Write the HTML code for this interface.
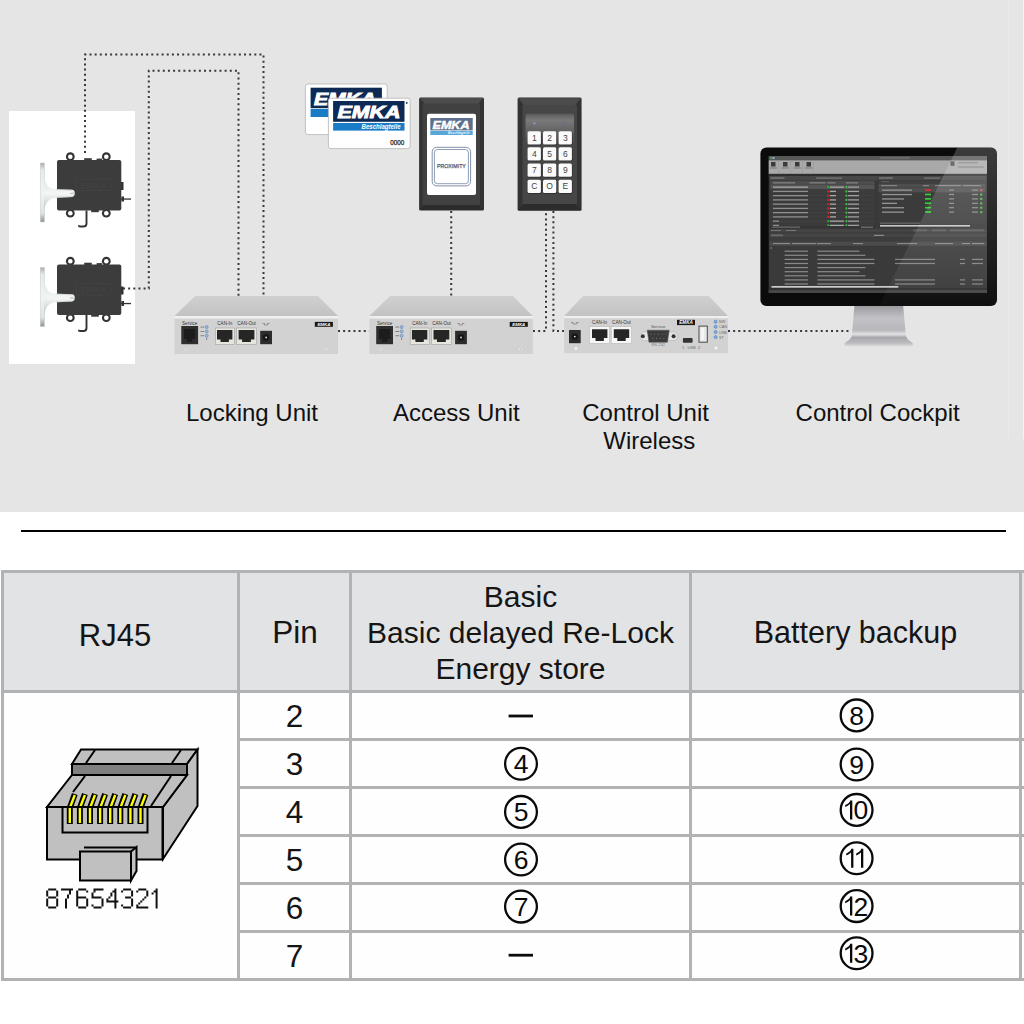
<!DOCTYPE html>
<html><head><meta charset="utf-8">
<style>
html,body{margin:0;padding:0;width:1024px;height:1024px;overflow:hidden;background:#fff;}
body{position:relative;font-family:"Liberation Sans",sans-serif;color:#1a1a1a;}
.a{position:absolute;}
#top{position:absolute;left:0;top:0;width:1024px;height:512px;background:#e5e5e5;overflow:hidden;}
.lbl{position:absolute;font-size:24px;line-height:28px;white-space:nowrap;color:#111;text-align:center;}
.hl{position:absolute;background:#b1b2b4;height:3px;}
.vl{position:absolute;background:#b1b2b4;width:3px;}
.t{position:absolute;font-size:30.5px;line-height:36px;text-align:center;white-space:nowrap;color:#151515;}
.c{position:absolute;width:31px;height:31px;border:2px solid #111;border-radius:50%;box-sizing:content-box;}
.c span{position:absolute;left:0;right:0;top:5px;text-align:center;font-size:25px;line-height:25px;color:#111;}
.dash{position:absolute;width:25px;height:3px;background:#111;}
</style></head><body>
<div id="top">
<svg class="a" style="left:0;top:0" width="1024" height="512" viewBox="0 0 1024 512">
<defs>
<linearGradient id="latch" x1="0" y1="0" x2="0" y2="1">
<stop offset="0" stop-color="#a8acac"/><stop offset="0.12" stop-color="#e6eaea"/><stop offset="0.5" stop-color="#f2f4f4"/><stop offset="0.85" stop-color="#dfe3e3"/><stop offset="1" stop-color="#8e9292"/>
</linearGradient>
<linearGradient id="arm" x1="0" y1="0" x2="0" y2="1">
<stop offset="0" stop-color="#dfe3e3"/><stop offset="0.5" stop-color="#f4f6f6"/><stop offset="1" stop-color="#c0c4c4"/>
</linearGradient>
<g id="lock">
<rect x="40.2" y="163" width="4.3" height="59" fill="url(#latch)" stroke="#c8cccc" stroke-width="0.5"/>
<circle cx="70.3" cy="156.7" r="4.4" fill="#333"/><circle cx="70.3" cy="156.7" r="2.3" fill="#fff"/>
<circle cx="106.3" cy="156.7" r="4.4" fill="#333"/><circle cx="106.3" cy="156.7" r="2.3" fill="#fff"/>
<circle cx="70.3" cy="213.2" r="4.4" fill="#333"/><circle cx="70.3" cy="213.2" r="2.3" fill="#fff"/>
<circle cx="106.3" cy="213.2" r="4.4" fill="#333"/><circle cx="106.3" cy="213.2" r="2.3" fill="#fff"/>
<rect x="84.2" y="158.2" width="7.6" height="3" fill="#3a3a3a"/>
<rect x="96.6" y="158.6" width="5.4" height="3" fill="#3a3a3a"/>
<rect x="91.2" y="209" width="7.6" height="3.2" fill="#3a3a3a"/>
<rect x="57" y="160" width="64.3" height="50.5" rx="2" fill="#3c3c3c"/>
<rect x="76.2" y="179.2" width="34.9" height="11.3" rx="1" fill="none" stroke="#444" stroke-width="0.8"/>
<text x="93.6" y="188.5" text-anchor="middle" style="font-family:'Liberation Sans';font-size:9px;font-weight:bold;font-style:italic" fill="#414141">EMKA</text>
<path d="M44 176 C45.5 185 49 188.6 56 189.2 L72 189.8 Q74.8 190.2 74.8 193.3 Q74.8 196.6 72 197 L56 197.8 C49 198.4 45.5 202 44 211 Z" fill="url(#arm)"/><path d="M56 189.6L72 190.2M56 197.4L72 196.6" stroke="#c4caca" stroke-width="0.6"/><path d="M74.8 192.5 L70 193.4 L74.8 194.3" fill="none" stroke="#aab" stroke-width="0.5"/>
<rect x="121" y="182" width="2.5" height="8" fill="#333"/>
<rect x="121" y="198.4" width="10" height="1.3" fill="#333"/>
<rect x="121.5" y="196.5" width="2.5" height="5" fill="#333"/>
<path d="M86.5 210.5 V223.5 Q86.5 226.5 83.5 226.5 H80 Q78.8 226.5 78.8 225.2" fill="none" stroke="#333" stroke-width="1.9"/>
</g>
<linearGradient id="tface" x1="0" y1="0" x2="0" y2="1"><stop offset="0" stop-color="#d0d0d0"/><stop offset="1" stop-color="#c2c2c2"/></linearGradient><g id="unit">
<polygon points="195.2,296 318,296 338,316 174.5,316" fill="url(#tface)"/>
<rect x="174.5" y="316" width="163.5" height="2.6" fill="#efefef"/>
<rect x="174.5" y="318.6" width="163.5" height="35.4" fill="#d2d2d2"/>
<rect x="181.3" y="326" width="16.8" height="18.2" fill="#2e2e2e"/>
<path d="M184 329h11.3v10h-3v3h-5.3v-3h-3z" fill="#1c1c1c"/>
<text x="189.7" y="324.8" text-anchor="middle" style="font-family:'Liberation Sans';font-size:4.6px" fill="#333">Service</text>
<g fill="#9bbbe0" stroke="#5f80b0" stroke-width="0.6"><circle cx="206.7" cy="327" r="1.5"/><circle cx="206.7" cy="331.4" r="1.5"/><circle cx="206.7" cy="335.7" r="1.5"/></g>
<rect x="206.2" y="338.5" width="1" height="1" fill="#333"/>
<g fill="#777"><rect x="200.5" y="326.6" width="3.6" height="0.9"/><rect x="200.5" y="331" width="3.6" height="0.9"/><rect x="200.5" y="335.3" width="3.6" height="0.9"/></g>
<rect x="215.3" y="328" width="19" height="16.4" fill="#e6e6de" stroke="#a0a0a0" stroke-width="0.6"/>
<path d="M217 330h15.4v9.5h-3.5v2.6h-8.4v-2.6h-3.5z" fill="#262626"/>
<rect x="236.6" y="328" width="20" height="16.4" fill="#e6e6de" stroke="#a0a0a0" stroke-width="0.6"/>
<path d="M238.6 330h15.8v9.5h-3.5v2.6h-8.8v-2.6h-3.5z" fill="#262626"/>
<text x="224.8" y="325.3" text-anchor="middle" style="font-family:'Liberation Sans';font-size:4.6px" fill="#333">CAN-In</text>
<text x="246.6" y="325.3" text-anchor="middle" style="font-family:'Liberation Sans';font-size:4.6px" fill="#333">CAN-Out</text>
<rect x="260.2" y="330.8" width="11.8" height="13.4" fill="#2c2c2c"/>
<circle cx="266.1" cy="337.5" r="3.2" fill="#151515"/><circle cx="266.1" cy="337.5" r="0.9" fill="#ddd"/>
<path d="M262.5 323.5h2v1.5h3v-1.5h2" fill="none" stroke="#666" stroke-width="0.6"/>
<rect x="314.8" y="321.9" width="18.1" height="4.9" fill="#181818"/>
<text x="323.9" y="325.9" text-anchor="middle" style="font-family:'Liberation Sans';font-size:4.4px;font-weight:bold;font-style:italic" fill="#fff">EMKA</text>
<circle cx="186.4" cy="349.3" r="2.4" fill="#ececec" stroke="#bdbdbd" stroke-width="0.5"/>
<circle cx="325.8" cy="349.3" r="2.4" fill="#ececec" stroke="#bdbdbd" stroke-width="0.5"/>
<path d="M185 349.3h2.8M186.4 347.9v2.8M324.4 349.3h2.8M325.8 347.9v2.8" stroke="#999" stroke-width="0.4"/>
</g>
</defs>
<rect x="1008" y="0" width="1" height="439" fill="#e9e9e9"/><rect x="1023" y="0" width="1" height="439" fill="#f3f3f3"/>
<rect x="9" y="111" width="126" height="253" fill="#fff"/>
<use href="#lock"/>
<use href="#lock" transform="translate(0,104.5)"/>
<use href="#unit"/>
<use href="#unit" transform="translate(194.9,0)"/>
<g fill="none" stroke="#383838" stroke-width="2" stroke-dasharray="2 3.15">
<path d="M85 153V54.5H263.5V296"/>
<path d="M123 288.5H148.8V70.8H238.5V296"/>
<path d="M338 331H369"/>
<path d="M451.2 211V296"/>
<path d="M533 331H546V211"/>
<path d="M553.4 211V331H564"/>
<path d="M728 331H851"/>
</g>
<!-- cards -->
<g id="card1">
<rect x="305.4" y="84" width="81.8" height="50.6" rx="2.5" fill="#fff" stroke="#b5b5b5" stroke-width="0.8"/>
<rect x="310.6" y="87.7" width="71.3" height="20.5" fill="#0d2a55"/>
<rect x="310.6" y="109" width="71.3" height="8" fill="#1a7bc6"/>
<text x="345" y="104.5" text-anchor="middle" style="font-family:'Liberation Sans';font-size:17px;font-weight:bold;font-style:italic" textLength="62" lengthAdjust="spacingAndGlyphs" fill="#fff" stroke="#fff" stroke-width="0.9">EMKA</text>
</g>
<g>
<rect x="328.4" y="98.2" width="81.8" height="50.4" rx="2.5" fill="#fff" stroke="#b5b5b5" stroke-width="0.8"/>
<rect x="333.1" y="101" width="71.4" height="20.8" fill="#0d2a55"/>
<rect x="333.1" y="123" width="71.4" height="7.6" fill="#1a7bc6"/>
<text x="369" y="118.2" text-anchor="middle" style="font-family:'Liberation Sans';font-size:17px;font-weight:bold;font-style:italic" textLength="63" lengthAdjust="spacingAndGlyphs" fill="#fff" stroke="#fff" stroke-width="0.9">EMKA</text>
<text x="400.6" y="129.2" text-anchor="end" style="font-family:'Liberation Sans';font-size:6.6px;font-weight:bold;font-style:italic" textLength="39" lengthAdjust="spacingAndGlyphs" fill="#fff">Beschlagteile</text>
<circle cx="406.7" cy="102.9" r="0.9" fill="#0d2a55"/>
<text x="404.2" y="145.2" text-anchor="end" style="font-family:'Liberation Sans';font-size:6.6px" fill="#222" stroke="#222" stroke-width="0.25" textLength="14" lengthAdjust="spacingAndGlyphs">0000</text>
</g>
<!-- reader -->
<g>
<rect x="419.1" y="97.4" width="64.9" height="113.2" rx="1.5" fill="#333"/>
<polygon points="419.6,98 483.5,98 478,104 425,104" fill="#4c4c4c"/>
<polygon points="419.6,210 483.5,210 478,204.5 425,204.5" fill="#2c2c2c"/>
<rect x="422.5" y="103.5" width="57.5" height="101.5" fill="#414141"/>
<rect x="427" y="113.8" width="49" height="81.1" rx="2" fill="#fff"/>
<rect x="430.3" y="118" width="42.4" height="12.4" fill="#5d6f8b"/>
<rect x="430.3" y="131" width="42.4" height="4" fill="#56a6da"/>
<text x="451" y="128.6" text-anchor="middle" style="font-family:'Liberation Sans';font-size:10px;font-weight:bold;font-style:italic" textLength="37" lengthAdjust="spacingAndGlyphs" fill="#fff" stroke="#fff" stroke-width="0.4">EMKA</text>
<text x="470" y="134.4" text-anchor="end" style="font-family:'Liberation Sans';font-size:3.6px;font-weight:bold;font-style:italic" textLength="22" lengthAdjust="spacingAndGlyphs" fill="#eaf4fb">Beschlagteile</text>
<rect x="432.2" y="147.3" width="38.4" height="38.6" rx="4.5" fill="none" stroke="#7384a0" stroke-width="0.9"/>
<rect x="434.4" y="149.5" width="34" height="34.2" rx="3" fill="none" stroke="#7384a0" stroke-width="0.8"/>
<text x="451.4" y="168.2" text-anchor="middle" style="font-family:'Liberation Sans';font-size:5.6px" textLength="29" lengthAdjust="spacingAndGlyphs" fill="#4c5c7a" stroke="#4c5c7a" stroke-width="0.25">PROXIMITY</text>
</g>
<!-- keypad -->
<g>
<rect x="517.6" y="97.6" width="64" height="113.2" rx="1.5" fill="#333"/>
<polygon points="518.2,98.2 581,98.2 575,105 524,105" fill="#4c4c4c"/>
<polygon points="518.2,210.2 581,210.2 575,204 524,204" fill="#2c2c2c"/>
<rect x="522.5" y="105" width="54.5" height="99" fill="#464646"/>
<defs><linearGradient id="kpg" x1="0" y1="0" x2="0" y2="1"><stop offset="0" stop-color="#5a5a5a"/><stop offset="0.08" stop-color="#7a7a7a"/><stop offset="0.22" stop-color="#626262"/><stop offset="0.35" stop-color="#4a4a4a"/><stop offset="1" stop-color="#444"/></linearGradient></defs>
<rect x="525.5" y="113.7" width="48.5" height="80.7" rx="2" fill="url(#kpg)"/>
<circle cx="534.4" cy="123.3" r="1.4" fill="#8a8cb8"/><circle cx="564.5" cy="123.3" r="1.4" fill="#6a6c90"/>
<rect x="528.2" y="132.0" width="13.3" height="13.3" rx="1.5" fill="#2a2a2a"/>
<rect x="527.6" y="131.2" width="13.3" height="13.3" rx="1.5" fill="#fafafa"/>
<text x="534.25" y="140.80" text-anchor="middle" style="font-family:'Liberation Sans';font-size:8.5px" fill="#444">1</text>
<rect x="543.6" y="132.0" width="13.3" height="13.3" rx="1.5" fill="#2a2a2a"/>
<rect x="543" y="131.2" width="13.3" height="13.3" rx="1.5" fill="#fafafa"/>
<text x="549.65" y="140.80" text-anchor="middle" style="font-family:'Liberation Sans';font-size:8.5px" fill="#444">2</text>
<rect x="559.2" y="132.0" width="13.3" height="13.3" rx="1.5" fill="#2a2a2a"/>
<rect x="558.6" y="131.2" width="13.3" height="13.3" rx="1.5" fill="#fafafa"/>
<text x="565.25" y="140.80" text-anchor="middle" style="font-family:'Liberation Sans';font-size:8.5px" fill="#444">3</text>
<rect x="528.2" y="148.0" width="13.3" height="13.3" rx="1.5" fill="#2a2a2a"/>
<rect x="527.6" y="147.2" width="13.3" height="13.3" rx="1.5" fill="#fafafa"/>
<text x="534.25" y="156.80" text-anchor="middle" style="font-family:'Liberation Sans';font-size:8.5px" fill="#444">4</text>
<rect x="543.6" y="148.0" width="13.3" height="13.3" rx="1.5" fill="#2a2a2a"/>
<rect x="543" y="147.2" width="13.3" height="13.3" rx="1.5" fill="#fafafa"/>
<text x="549.65" y="156.80" text-anchor="middle" style="font-family:'Liberation Sans';font-size:8.5px" fill="#444">5</text>
<rect x="559.2" y="148.0" width="13.3" height="13.3" rx="1.5" fill="#2a2a2a"/>
<rect x="558.6" y="147.2" width="13.3" height="13.3" rx="1.5" fill="#fafafa"/>
<text x="565.25" y="156.80" text-anchor="middle" style="font-family:'Liberation Sans';font-size:8.5px" fill="#444">6</text>
<rect x="528.2" y="164.20000000000002" width="13.3" height="13.3" rx="1.5" fill="#2a2a2a"/>
<rect x="527.6" y="163.4" width="13.3" height="13.3" rx="1.5" fill="#fafafa"/>
<text x="534.25" y="173.00" text-anchor="middle" style="font-family:'Liberation Sans';font-size:8.5px" fill="#444">7</text>
<rect x="543.6" y="164.20000000000002" width="13.3" height="13.3" rx="1.5" fill="#2a2a2a"/>
<rect x="543" y="163.4" width="13.3" height="13.3" rx="1.5" fill="#fafafa"/>
<text x="549.65" y="173.00" text-anchor="middle" style="font-family:'Liberation Sans';font-size:8.5px" fill="#444">8</text>
<rect x="559.2" y="164.20000000000002" width="13.3" height="13.3" rx="1.5" fill="#2a2a2a"/>
<rect x="558.6" y="163.4" width="13.3" height="13.3" rx="1.5" fill="#fafafa"/>
<text x="565.25" y="173.00" text-anchor="middle" style="font-family:'Liberation Sans';font-size:8.5px" fill="#444">9</text>
<rect x="528.2" y="180.5" width="13.3" height="13.3" rx="1.5" fill="#2a2a2a"/>
<rect x="527.6" y="179.7" width="13.3" height="13.3" rx="1.5" fill="#fafafa"/>
<text x="534.25" y="189.30" text-anchor="middle" style="font-family:'Liberation Sans';font-size:8.5px" fill="#444">C</text>
<rect x="543.6" y="180.5" width="13.3" height="13.3" rx="1.5" fill="#2a2a2a"/>
<rect x="543" y="179.7" width="13.3" height="13.3" rx="1.5" fill="#fafafa"/>
<text x="549.65" y="189.30" text-anchor="middle" style="font-family:'Liberation Sans';font-size:8.5px" fill="#444">O</text>
<rect x="559.2" y="180.5" width="13.3" height="13.3" rx="1.5" fill="#2a2a2a"/>
<rect x="558.6" y="179.7" width="13.3" height="13.3" rx="1.5" fill="#fafafa"/>
<text x="565.25" y="189.30" text-anchor="middle" style="font-family:'Liberation Sans';font-size:8.5px" fill="#444">E</text>
</g>
<!-- control unit -->
<g>
<polygon points="583,296 708.7,296 728,316 564.2,316" fill="url(#tface)"/>
<rect x="564.2" y="316" width="163.8" height="2.3" fill="#efefef"/>
<rect x="564.2" y="318.3" width="163.8" height="34.9" fill="#d2d2d2"/>
<rect x="569" y="330" width="11.7" height="13.2" fill="#2c2c2c"/>
<circle cx="574.8" cy="336.6" r="3.2" fill="#151515"/><circle cx="574.8" cy="336.6" r="0.9" fill="#ddd"/>
<path d="M571 322.5h2v1.5h3.6v-1.5h2" fill="none" stroke="#666" stroke-width="0.6"/>
<rect x="589.4" y="326.7" width="20.3" height="16.7" fill="#f6f6f6" stroke="#b0b0b0" stroke-width="0.5"/>
<path d="M592 329.3h15.4v8.7h-3.5v3h-8.4v-3h-3.5z" fill="#262626"/>
<rect x="611.2" y="326.7" width="20.4" height="16.7" fill="#f6f6f6" stroke="#b0b0b0" stroke-width="0.5"/>
<path d="M613.8 329.3h15.4v8.7h-3.5v3h-8.4v-3h-3.5z" fill="#262626"/>
<text x="599.6" y="324.4" text-anchor="middle" style="font-family:'Liberation Sans';font-size:4.6px" fill="#333">CAN-In</text>
<text x="621.4" y="324.4" text-anchor="middle" style="font-family:'Liberation Sans';font-size:4.6px" fill="#333">CAN-Out</text>
<rect x="640" y="332" width="37.5" height="8.6" rx="4.3" fill="#e4e4e4" stroke="#b0b0b0" stroke-width="0.5"/>
<circle cx="642.8" cy="336.2" r="2" fill="#333"/><circle cx="673.6" cy="336.2" r="2" fill="#333"/>
<path d="M647.2 330.2h22l-1.8 12h-18.4z" fill="#3a3a3a" stroke="#555" stroke-width="0.6"/>
<g fill="#888"><circle cx="651" cy="334" r="0.5"/><circle cx="654.7" cy="334" r="0.5"/><circle cx="658.4" cy="334" r="0.5"/><circle cx="662.1" cy="334" r="0.5"/><circle cx="665.8" cy="334" r="0.5"/><circle cx="652.8" cy="338.3" r="0.5"/><circle cx="656.5" cy="338.3" r="0.5"/><circle cx="660.2" cy="338.3" r="0.5"/><circle cx="663.9" cy="338.3" r="0.5"/></g>
<text x="658.2" y="328.4" text-anchor="middle" style="font-family:'Liberation Sans';font-size:4.4px" fill="#555">Service</text>
<text x="658.2" y="346.2" text-anchor="middle" style="font-family:'Liberation Sans';font-size:4px" fill="#777">RS-232</text>
<rect x="677" y="319.8" width="18" height="5.3" fill="#181818"/>
<text x="686" y="324.2" text-anchor="middle" style="font-family:'Liberation Sans';font-size:4.6px;font-weight:bold;font-style:italic" fill="#fff">EMKA</text>
<rect x="682.9" y="338.1" width="9.7" height="4.6" rx="0.8" fill="#333"/>
<rect x="698.5" y="325.6" width="9.3" height="17.1" fill="#4a4a4a"/>
<rect x="699.5" y="326.6" width="7.3" height="15.1" fill="#e8e8e8"/>
<rect x="701.5" y="328" width="2.2" height="12" fill="#fafafa"/>
<text x="691" y="348.5" text-anchor="middle" style="font-family:'Liberation Sans';font-size:4px" fill="#6a6a6a" xml:space="preserve">1   USB  2</text>
<g fill="#7fb0e8" stroke="#4a78b8" stroke-width="0.6"><circle cx="715.6" cy="321.7" r="1.5"/><circle cx="715.6" cy="326.8" r="1.5"/><circle cx="715.6" cy="332" r="1.5"/><circle cx="715.6" cy="337.1" r="1.5"/></g>
<g style="font-family:'Liberation Sans';font-size:3.8px" fill="#6a6a6a"><text x="719" y="323.3">NW</text><text x="719" y="328.4">CAN</text><text x="719" y="333.6">USB</text><text x="719" y="338.7">ST</text></g>
<circle cx="576" cy="348.4" r="2.4" fill="#ececec" stroke="#bdbdbd" stroke-width="0.5"/>
<circle cx="715.9" cy="348.1" r="2.4" fill="#ececec" stroke="#bdbdbd" stroke-width="0.5"/>
</g>
<!-- monitor -->
<defs>
<linearGradient id="stand" x1="0" y1="0" x2="0" y2="1">
<stop offset="0" stop-color="#9c9ca0"/><stop offset="0.3" stop-color="#c2c2c6"/><stop offset="0.6" stop-color="#b8b8bc"/><stop offset="0.7" stop-color="#e2e2e4"/><stop offset="0.78" stop-color="#a8a8ac"/><stop offset="0.92" stop-color="#bdbdc1"/><stop offset="1" stop-color="#dadadc"/>
</linearGradient>
<linearGradient id="tbar" x1="0" y1="0" x2="0" y2="1"><stop offset="0" stop-color="#b4b4b4"/><stop offset="1" stop-color="#8e8e8e"/></linearGradient>
<clipPath id="bez"><rect x="760.4" y="147.4" width="236.6" height="158.6" rx="6"/></clipPath>
</defs>
<path d="M854.4 306H903.2L905.7 334C906 338 908 340 912 342.5Q914 344.5 912 346.3H845.6Q843.5 344.5 845.5 342.5C849.5 340 852 338 852 334Z" fill="url(#stand)"/>
<rect x="760.4" y="147.4" width="236.6" height="158.6" rx="6" fill="#0b0b0b"/>
<rect x="768.70" y="156.00" width="218.30" height="137.00" fill="#393939"/>
<rect x="768.70" y="156.00" width="218.30" height="4.30" fill="#575757"/>
<rect x="770.00" y="157.00" width="2.00" height="2.00" fill="#4a9a4a"/>
<rect x="772.50" y="157.00" width="2.00" height="2.00" fill="#8ab0e0"/>
<rect x="880.00" y="157.50" width="30.00" height="1.00" fill="#7a7a7a"/>
<rect x="768.70" y="160.30" width="218.30" height="13.60" fill="#a9a9a9"/>
<rect x="771.00" y="162.00" width="4.50" height="4.50" fill="#3a3a3a"/>
<rect x="769.50" y="167.50" width="7.50" height="1.00" fill="#7a7a7a"/>
<rect x="783.00" y="162.00" width="4.50" height="4.50" fill="#3a3a3a"/>
<rect x="781.50" y="167.50" width="7.50" height="1.00" fill="#7a7a7a"/>
<rect x="795.00" y="162.00" width="4.50" height="4.50" fill="#3a3a3a"/>
<rect x="793.50" y="167.50" width="7.50" height="1.00" fill="#7a7a7a"/>
<rect x="806.50" y="162.00" width="4.50" height="4.50" fill="#3a3a3a"/>
<rect x="805.00" y="167.50" width="7.50" height="1.00" fill="#7a7a7a"/>
<rect x="778.00" y="160.30" width="0.60" height="13.60" fill="#9a9a9a"/>
<rect x="790.00" y="160.30" width="0.60" height="13.60" fill="#9a9a9a"/>
<rect x="802.00" y="160.30" width="0.60" height="13.60" fill="#9a9a9a"/>
<rect x="813.00" y="160.30" width="0.60" height="13.60" fill="#9a9a9a"/>
<rect x="950.50" y="161.30" width="4.00" height="4.50" fill="#4a4a4a"/>
<rect x="958.00" y="162.30" width="20.00" height="1.00" fill="#7a7a7a"/>
<rect x="958.00" y="166.50" width="26.00" height="1.00" fill="#7a7a7a"/>
<rect x="768.70" y="173.90" width="218.30" height="2.00" fill="#2e2e2e"/>
<rect x="769.50" y="176.00" width="107.50" height="4.20" fill="#474747"/>
<rect x="770.50" y="177.00" width="14.00" height="2.00" fill="#6a6a6a"/>
<rect x="816.00" y="177.50" width="26.00" height="1.20" fill="#7a7a7a"/>
<rect x="770.50" y="180.80" width="104.00" height="4.00" fill="#4d4d4d"/>
<rect x="773.00" y="182.30" width="22.00" height="1.10" fill="#8a8a8a"/>
<rect x="809.50" y="182.30" width="16.00" height="1.10" fill="#8a8a8a"/>
<rect x="827.50" y="182.30" width="8.00" height="1.10" fill="#8a8a8a"/>
<rect x="846.00" y="182.30" width="12.00" height="1.10" fill="#8a8a8a"/>
<rect x="770.50" y="185.00" width="104.00" height="40.00" fill="#3d3d3d"/>
<rect x="770.50" y="185.00" width="104.00" height="4.25" fill="#555"/>
<rect x="770.50" y="189.05" width="104.00" height="0.35" fill="#333"/>
<rect x="773.00" y="186.50" width="35.00" height="1.30" fill="#a6a6a6"/>
<rect x="827.30" y="186.10" width="2.10" height="2.10" fill="#28b028"/>
<rect x="830.00" y="186.50" width="14.00" height="1.30" fill="#a8a8a8"/>
<rect x="845.50" y="186.10" width="1.80" height="2.10" fill="#40c040"/>
<rect x="848.00" y="186.50" width="11.00" height="1.30" fill="#a0a0a0"/>
<rect x="770.50" y="193.30" width="104.00" height="0.35" fill="#333"/>
<rect x="773.00" y="190.75" width="35.00" height="1.30" fill="#8e8e8e"/>
<rect x="827.30" y="190.35" width="2.10" height="2.10" fill="#d02828"/>
<rect x="830.00" y="190.75" width="6.00" height="1.30" fill="#a8a8a8"/>
<rect x="845.50" y="190.35" width="1.80" height="2.10" fill="#40c040"/>
<rect x="848.00" y="190.75" width="11.00" height="1.30" fill="#a0a0a0"/>
<rect x="770.50" y="197.55" width="104.00" height="0.35" fill="#333"/>
<rect x="773.00" y="195.00" width="35.00" height="1.30" fill="#8e8e8e"/>
<rect x="827.30" y="194.60" width="2.10" height="2.10" fill="#d02828"/>
<rect x="830.00" y="195.00" width="6.00" height="1.30" fill="#a8a8a8"/>
<rect x="845.50" y="194.60" width="1.80" height="2.10" fill="#40c040"/>
<rect x="848.00" y="195.00" width="11.00" height="1.30" fill="#a0a0a0"/>
<rect x="770.50" y="201.80" width="104.00" height="0.35" fill="#333"/>
<rect x="773.00" y="199.25" width="35.00" height="1.30" fill="#8e8e8e"/>
<rect x="827.30" y="198.85" width="2.10" height="2.10" fill="#d02828"/>
<rect x="830.00" y="199.25" width="6.00" height="1.30" fill="#a8a8a8"/>
<rect x="845.50" y="198.85" width="1.80" height="2.10" fill="#40c040"/>
<rect x="848.00" y="199.25" width="11.00" height="1.30" fill="#a0a0a0"/>
<rect x="770.50" y="206.05" width="104.00" height="0.35" fill="#333"/>
<rect x="773.00" y="203.50" width="35.00" height="1.30" fill="#8e8e8e"/>
<rect x="827.30" y="203.10" width="2.10" height="2.10" fill="#d02828"/>
<rect x="830.00" y="203.50" width="6.00" height="1.30" fill="#a8a8a8"/>
<rect x="845.50" y="203.10" width="1.80" height="2.10" fill="#40c040"/>
<rect x="848.00" y="203.50" width="11.00" height="1.30" fill="#a0a0a0"/>
<rect x="770.50" y="210.30" width="104.00" height="0.35" fill="#333"/>
<rect x="773.00" y="207.75" width="35.00" height="1.30" fill="#8e8e8e"/>
<rect x="827.30" y="207.35" width="2.10" height="2.10" fill="#d02828"/>
<rect x="830.00" y="207.75" width="6.00" height="1.30" fill="#a8a8a8"/>
<rect x="845.50" y="207.35" width="1.80" height="2.10" fill="#40c040"/>
<rect x="848.00" y="207.75" width="11.00" height="1.30" fill="#a0a0a0"/>
<rect x="770.50" y="214.55" width="104.00" height="0.35" fill="#333"/>
<rect x="773.00" y="212.00" width="35.00" height="1.30" fill="#8e8e8e"/>
<rect x="827.30" y="211.60" width="2.10" height="2.10" fill="#d02828"/>
<rect x="830.00" y="212.00" width="6.00" height="1.30" fill="#a8a8a8"/>
<rect x="845.50" y="211.60" width="1.80" height="2.10" fill="#40c040"/>
<rect x="848.00" y="212.00" width="11.00" height="1.30" fill="#a0a0a0"/>
<rect x="770.50" y="218.80" width="104.00" height="0.35" fill="#333"/>
<rect x="773.00" y="216.25" width="35.00" height="1.30" fill="#8e8e8e"/>
<rect x="827.30" y="215.85" width="2.10" height="2.10" fill="#d02828"/>
<rect x="830.00" y="216.25" width="6.00" height="1.30" fill="#a8a8a8"/>
<rect x="845.50" y="215.85" width="1.80" height="2.10" fill="#40c040"/>
<rect x="848.00" y="216.25" width="11.00" height="1.30" fill="#a0a0a0"/>
<rect x="770.50" y="223.05" width="104.00" height="0.35" fill="#333"/>
<rect x="773.00" y="220.50" width="6.00" height="1.30" fill="#8e8e8e"/>
<rect x="827.30" y="220.10" width="2.10" height="2.10" fill="#28b028"/>
<rect x="830.00" y="220.50" width="14.00" height="1.30" fill="#a8a8a8"/>
<rect x="845.50" y="220.10" width="1.80" height="2.10" fill="#40c040"/>
<rect x="848.00" y="220.50" width="11.00" height="1.30" fill="#a0a0a0"/>
<rect x="770.50" y="227.30" width="104.00" height="0.35" fill="#333"/>
<rect x="773.00" y="224.75" width="6.00" height="1.30" fill="#8e8e8e"/>
<rect x="827.30" y="224.35" width="2.10" height="2.10" fill="#28b028"/>
<rect x="830.00" y="224.75" width="14.00" height="1.30" fill="#a8a8a8"/>
<rect x="845.50" y="224.35" width="1.80" height="2.10" fill="#40c040"/>
<rect x="848.00" y="224.75" width="11.00" height="1.30" fill="#a0a0a0"/>
<rect x="770.50" y="226.00" width="104.00" height="2.50" fill="#353535"/>
<rect x="772.00" y="226.60" width="28.00" height="1.00" fill="#777"/>
<rect x="861.00" y="226.60" width="12.00" height="1.20" fill="#777"/>
<rect x="877.50" y="176.00" width="108.50" height="4.20" fill="#474747"/>
<rect x="879.00" y="177.00" width="14.00" height="2.00" fill="#6a6a6a"/>
<rect x="924.00" y="177.50" width="16.00" height="1.20" fill="#7a7a7a"/>
<rect x="878.50" y="180.50" width="107.00" height="2.80" fill="#3f3f3f"/>
<rect x="881.00" y="181.30" width="8.00" height="0.90" fill="#666"/>
<rect x="878.50" y="183.60" width="107.00" height="4.20" fill="#4d4d4d"/>
<rect x="881.00" y="185.10" width="16.00" height="1.10" fill="#8a8a8a"/>
<rect x="923.00" y="185.10" width="6.00" height="1.10" fill="#8a8a8a"/>
<rect x="935.00" y="185.10" width="26.00" height="1.10" fill="#8a8a8a"/>
<rect x="963.00" y="185.10" width="18.00" height="1.10" fill="#8a8a8a"/>
<rect x="878.50" y="188.00" width="107.00" height="36.00" fill="#3b3b3b"/>
<rect x="878.50" y="188.00" width="107.00" height="4.40" fill="#4e4e4e"/>
<rect x="882.00" y="189.50" width="30.00" height="1.30" fill="#969696"/>
<rect x="925.00" y="189.20" width="6.00" height="1.70" fill="#e03030"/>
<rect x="949.00" y="189.50" width="5.00" height="1.20" fill="#8a8a8a"/>
<rect x="972.00" y="189.50" width="6.00" height="1.20" fill="#8a8a8a"/>
<rect x="980.20" y="189.10" width="2.10" height="2.10" fill="#e05050"/>
<rect x="882.00" y="193.90" width="30.00" height="1.30" fill="#969696"/>
<rect x="925.00" y="193.60" width="6.00" height="1.70" fill="#30d030"/>
<rect x="949.00" y="193.90" width="5.00" height="1.20" fill="#8a8a8a"/>
<rect x="972.00" y="193.90" width="6.00" height="1.20" fill="#8a8a8a"/>
<rect x="980.20" y="193.50" width="2.10" height="2.10" fill="#40c040"/>
<rect x="882.00" y="198.30" width="22.00" height="1.30" fill="#969696"/>
<rect x="925.00" y="198.00" width="6.00" height="1.70" fill="#30d030"/>
<rect x="949.00" y="198.30" width="5.00" height="1.20" fill="#8a8a8a"/>
<rect x="972.00" y="198.30" width="6.00" height="1.20" fill="#8a8a8a"/>
<rect x="980.20" y="197.90" width="2.10" height="2.10" fill="#40c040"/>
<rect x="882.00" y="202.70" width="15.00" height="1.30" fill="#969696"/>
<rect x="925.00" y="202.40" width="6.00" height="1.70" fill="#30d030"/>
<rect x="949.00" y="202.70" width="5.00" height="1.20" fill="#8a8a8a"/>
<rect x="972.00" y="202.70" width="6.00" height="1.20" fill="#8a8a8a"/>
<rect x="980.20" y="202.30" width="2.10" height="2.10" fill="#40c040"/>
<rect x="882.00" y="207.10" width="22.00" height="1.30" fill="#969696"/>
<rect x="925.00" y="206.80" width="6.00" height="1.70" fill="#30d030"/>
<rect x="949.00" y="207.10" width="5.00" height="1.20" fill="#8a8a8a"/>
<rect x="972.00" y="207.10" width="6.00" height="1.20" fill="#8a8a8a"/>
<rect x="980.20" y="206.70" width="2.10" height="2.10" fill="#40c040"/>
<rect x="882.00" y="211.50" width="22.00" height="1.30" fill="#969696"/>
<rect x="925.00" y="211.20" width="6.00" height="1.70" fill="#30d030"/>
<rect x="949.00" y="211.50" width="5.00" height="1.20" fill="#8a8a8a"/>
<rect x="972.00" y="211.50" width="6.00" height="1.20" fill="#8a8a8a"/>
<rect x="980.20" y="211.10" width="2.10" height="2.10" fill="#40c040"/>
<rect x="878.50" y="224.30" width="107.00" height="3.50" fill="#383838"/>
<rect x="880.00" y="225.00" width="90.00" height="1.60" fill="#c8c8c8"/>
<rect x="880.00" y="222.70" width="40.00" height="0.90" fill="#777"/>
<rect x="769.50" y="229.00" width="217.00" height="3.40" fill="#444"/>
<rect x="771.00" y="230.00" width="10.00" height="1.00" fill="#777"/>
<rect x="786.00" y="230.00" width="10.00" height="1.00" fill="#777"/>
<rect x="913.00" y="229.30" width="14.00" height="2.00" fill="#5a5a5a"/>
<rect x="932.00" y="229.30" width="14.00" height="2.00" fill="#5a5a5a"/>
<rect x="950.00" y="229.30" width="10.00" height="2.00" fill="#5a5a5a"/>
<rect x="960.00" y="229.30" width="24.00" height="2.00" fill="#5a5a5a"/>
<rect x="769.50" y="233.50" width="217.00" height="3.60" fill="#454545"/>
<rect x="771.00" y="234.30" width="12.00" height="2.00" fill="#666"/>
<rect x="874.00" y="234.80" width="10.00" height="1.20" fill="#8a8a8a"/>
<rect x="769.50" y="237.50" width="217.00" height="3.80" fill="#3d3d3d"/>
<rect x="769.50" y="241.50" width="217.00" height="4.30" fill="#4b4b4b"/>
<rect x="773.00" y="243.00" width="17.00" height="1.10" fill="#8a8a8a"/>
<rect x="792.00" y="243.00" width="24.00" height="1.10" fill="#8a8a8a"/>
<rect x="817.00" y="243.00" width="14.00" height="1.10" fill="#8a8a8a"/>
<rect x="853.00" y="243.00" width="10.00" height="1.10" fill="#8a8a8a"/>
<rect x="897.00" y="243.00" width="20.00" height="1.10" fill="#8a8a8a"/>
<rect x="935.00" y="243.00" width="18.00" height="1.10" fill="#8a8a8a"/>
<rect x="962.00" y="243.00" width="8.00" height="1.10" fill="#8a8a8a"/>
<rect x="972.00" y="243.00" width="12.00" height="1.10" fill="#8a8a8a"/>
<rect x="769.50" y="246.00" width="217.00" height="40.00" fill="#3a3a3a"/>
<rect x="770.50" y="247.50" width="1.50" height="1.00" fill="#999"/>
<rect x="784.60" y="250.60" width="23.40" height="1.20" fill="#8a8a8a"/>
<rect x="817.40" y="250.60" width="42.00" height="1.20" fill="#8a8a8a"/>
<rect x="784.60" y="254.70" width="23.40" height="1.20" fill="#8a8a8a"/>
<rect x="817.40" y="254.70" width="48.00" height="1.20" fill="#8a8a8a"/>
<rect x="784.60" y="258.80" width="23.40" height="1.20" fill="#8a8a8a"/>
<rect x="817.40" y="258.80" width="57.00" height="1.20" fill="#8a8a8a"/>
<rect x="895.00" y="258.80" width="40.00" height="1.20" fill="#858585"/>
<rect x="960.00" y="258.80" width="5.00" height="1.20" fill="#858585"/>
<rect x="972.00" y="258.80" width="11.00" height="1.20" fill="#858585"/>
<rect x="784.60" y="262.90" width="23.40" height="1.20" fill="#8a8a8a"/>
<rect x="817.40" y="262.90" width="57.00" height="1.20" fill="#8a8a8a"/>
<rect x="895.00" y="262.90" width="40.00" height="1.20" fill="#858585"/>
<rect x="960.00" y="262.90" width="5.00" height="1.20" fill="#858585"/>
<rect x="972.00" y="262.90" width="11.00" height="1.20" fill="#858585"/>
<rect x="784.60" y="267.00" width="23.40" height="1.20" fill="#8a8a8a"/>
<rect x="817.40" y="267.00" width="48.00" height="1.20" fill="#8a8a8a"/>
<rect x="784.60" y="271.10" width="23.40" height="1.20" fill="#8a8a8a"/>
<rect x="817.40" y="271.10" width="42.00" height="1.20" fill="#8a8a8a"/>
<rect x="784.60" y="275.20" width="23.40" height="1.20" fill="#8a8a8a"/>
<rect x="817.40" y="275.20" width="48.00" height="1.20" fill="#8a8a8a"/>
<rect x="784.60" y="279.30" width="23.40" height="1.20" fill="#8a8a8a"/>
<rect x="817.40" y="279.30" width="57.00" height="1.20" fill="#8a8a8a"/>
<rect x="895.00" y="279.30" width="40.00" height="1.20" fill="#858585"/>
<rect x="960.00" y="279.30" width="5.00" height="1.20" fill="#858585"/>
<rect x="972.00" y="279.30" width="11.00" height="1.20" fill="#858585"/>
<rect x="784.60" y="283.40" width="23.40" height="1.20" fill="#8a8a8a"/>
<rect x="817.40" y="283.40" width="57.00" height="1.20" fill="#8a8a8a"/>
<rect x="895.00" y="283.40" width="40.00" height="1.20" fill="#858585"/>
<rect x="960.00" y="283.40" width="5.00" height="1.20" fill="#858585"/>
<rect x="972.00" y="283.40" width="11.00" height="1.20" fill="#858585"/>
<rect x="771.50" y="286.00" width="126.80" height="1.70" fill="#cacaca"/>
<rect x="768.70" y="288.00" width="218.30" height="2.00" fill="#303030"/>
<rect x="768.70" y="290.00" width="218.30" height="3.00" fill="#464646"/>
<defs><linearGradient id="refl" x1="0" y1="0" x2="0" y2="1"><stop offset="0" stop-color="#fff" stop-opacity="0.2"/><stop offset="0.55" stop-color="#fff" stop-opacity="0.1"/><stop offset="1" stop-color="#fff" stop-opacity="0.02"/></linearGradient></defs><polygon clip-path="url(#bez)" points="957.6,147 1000,147 1000,306 879,306" fill="url(#refl)"/>
</svg>
<div class="lbl" style="left:152px;top:399px;width:200px;">Locking Unit</div>
<div class="lbl" style="left:356.3px;top:399px;width:200px;">Access Unit</div>
<div class="lbl" style="left:545.6px;top:399px;width:200px;">Control Unit</div>
<div class="lbl" style="left:549.3px;top:427px;width:200px;">Wireless</div>
<div class="lbl" style="left:777.6px;top:399px;width:200px;">Control Cockpit</div>

</div>
<div class="a" style="left:21px;top:530px;width:985px;height:2px;background:#000;"></div>

<!-- table -->
<div class="a" style="left:4px;top:573px;width:1020px;height:117px;background:#e2e3e5;"></div>
<div class="a" style="left:4px;top:693px;width:1015px;height:285px;background:#fefefe;"></div>
<div class="hl" style="left:1px;top:570px;width:1023px;"></div>
<div class="hl" style="left:1px;top:690px;width:1023px;"></div>
<div class="hl" style="left:237px;top:738px;width:787px;"></div>
<div class="hl" style="left:237px;top:786px;width:787px;"></div>
<div class="hl" style="left:237px;top:834px;width:787px;"></div>
<div class="hl" style="left:237px;top:882px;width:787px;"></div>
<div class="hl" style="left:237px;top:930px;width:787px;"></div>
<div class="hl" style="left:1px;top:978px;width:1023px;"></div>
<div class="vl" style="left:1px;top:570px;height:411px;"></div>
<div class="vl" style="left:237px;top:570px;height:411px;"></div>
<div class="vl" style="left:349px;top:570px;height:411px;"></div>
<div class="vl" style="left:689px;top:570px;height:411px;"></div>
<div class="vl" style="left:1019px;top:570px;height:411px;"></div>

<div class="t" style="left:-1.5px;width:233px;top:618px;font-size:31px;">RJ45</div>
<div class="t" style="left:240.5px;width:109px;top:614px;font-size:31.5px;">Pin</div>
<div class="t" style="left:352px;width:337px;top:578.5px;font-size:30px;">Basic<br>Basic delayed Re-Lock<br>Energy store</div>
<div class="t" style="left:692px;width:327px;top:614px;">Battery backup</div>

<div class="t" style="left:240px;width:109px;top:697.7px;font-size:31.5px;">2</div>
<div class="t" style="left:240px;width:109px;top:745.7px;font-size:31.5px;">3</div>
<div class="t" style="left:240px;width:109px;top:793.7px;font-size:31.5px;">4</div>
<div class="t" style="left:240px;width:109px;top:841.7px;font-size:31.5px;">5</div>
<div class="t" style="left:240px;width:109px;top:889.7px;font-size:31.5px;">6</div>
<div class="t" style="left:240px;width:109px;top:937.7px;font-size:31.5px;">7</div>

<svg class="a" style="left:0;top:0" width="1024" height="1024" viewBox="0 0 1024 1024"><g fill="none" stroke="#0a0a0a" stroke-width="2.3">
<circle cx="856.6" cy="715.4" r="15.9"/>
<circle cx="521" cy="763.8" r="15.9"/>
<circle cx="856.6" cy="764.5" r="15.9"/>
<circle cx="521" cy="811.9" r="15.9"/>
<circle cx="856.6" cy="809.9" r="15.9"/>
<circle cx="521" cy="859.5" r="15.9"/>
<circle cx="856.6" cy="858.3" r="15.9"/>
<circle cx="521" cy="906.6" r="15.9"/>
<circle cx="856.6" cy="906.1" r="15.9"/>
<circle cx="856.6" cy="953.3" r="15.9"/>
</g><g fill="#0a0a0a" style="font-family:'Liberation Sans';font-size:26.5px" text-anchor="middle">
<rect x="508.6" y="714.6" width="24.4" height="2.8"/>
<text x="856.6" y="724.9">8</text>
<text x="521" y="773.3">4</text>
<text x="856.6" y="774.0">9</text>
<text x="521" y="821.4">5</text>
<path d="M850.0 800.4h2.3v19h-2.3zM845.2 805.0c2.6-1 4.4-2.6 5.2-4.6l1.2 1.6c-1.2 2-3.4 3.9-6.4 5z"/>
<text x="860.8" y="819.4">0</text>
<text x="521" y="869.0">6</text>
<path d="M851.1 848.8h2.3v19h-2.3zM846.3 853.4c2.6-1 4.4-2.6 5.2-4.6l1.2 1.6c-1.2 2-3.4 3.9-6.4 5z"/>
<path d="M861.0 848.8h2.3v19h-2.3zM856.2 853.4c2.6-1 4.4-2.6 5.2-4.6l1.2 1.6c-1.2 2-3.4 3.9-6.4 5z"/>
<text x="521" y="916.1">7</text>
<path d="M850.0 896.6h2.3v19h-2.3zM845.2 901.2c2.6-1 4.4-2.6 5.2-4.6l1.2 1.6c-1.2 2-3.4 3.9-6.4 5z"/>
<text x="860.8" y="915.6">2</text>
<rect x="508.6" y="953.8000000000001" width="24.4" height="2.8"/>
<path d="M850.0 943.8h2.3v19h-2.3zM845.2 948.4c2.6-1 4.4-2.6 5.2-4.6l1.2 1.6c-1.2 2-3.4 3.9-6.4 5z"/>
<text x="860.8" y="962.8">3</text>
</g></svg>
<!--RJ45--><svg class="a" style="left:0;top:0" width="240" height="1024" viewBox="0 0 240 1024">
<g stroke="#000" stroke-width="2" stroke-linejoin="miter">
<polygon points="81,749.5 197.5,749.5 187,764 72,764" fill="#c0c0c0"/>
<polygon points="197.5,749.5 197.5,806 163,859 163,807 187,775 187,764" fill="#c0c0c0"/>
<polygon points="72,775 187,775 163,807 47,807" fill="#c0c0c0"/>
<rect x="72" y="764" width="115" height="11" fill="#808080"/>
<rect x="47" y="807" width="115.5" height="52.5" fill="#c0c0c0"/>
<path d="M62.5 807V832.5H147.5V807" fill="#c0c0c0"/>
<line x1="95" y1="750" x2="86" y2="763"/>
<line x1="181" y1="750" x2="172" y2="763"/>
<line x1="85" y1="776" x2="73" y2="792"/>
<line x1="171" y1="776" x2="151" y2="806"/>
<rect x="80" y="851.5" width="51" height="29" fill="#c0c0c0"/>
<polygon points="131,851.5 136.5,847 136.5,871 131,880.5" fill="#c0c0c0"/>
<line x1="84" y1="847.5" x2="136.5" y2="847.5"/>
</g>
<g id="pins">
<path d="M69.8 824V808L74.8 794" fill="none" stroke="#000" stroke-width="6"/>
<path d="M79.9 824V808L84.9 794" fill="none" stroke="#000" stroke-width="6"/>
<path d="M90.0 824V808L95.0 794" fill="none" stroke="#000" stroke-width="6"/>
<path d="M100.1 824V808L105.1 794" fill="none" stroke="#000" stroke-width="6"/>
<path d="M110.2 824V808L115.2 794" fill="none" stroke="#000" stroke-width="6"/>
<path d="M120.3 824V808L125.3 794" fill="none" stroke="#000" stroke-width="6"/>
<path d="M130.4 824V808L135.4 794" fill="none" stroke="#000" stroke-width="6"/>
<path d="M140.5 824V808L145.5 794" fill="none" stroke="#000" stroke-width="6"/>
<path d="M69.8 823V808L74.8 795" fill="none" stroke="#ffff00" stroke-width="2.4"/>
<path d="M79.9 823V808L84.9 795" fill="none" stroke="#ffff00" stroke-width="2.4"/>
<path d="M90.0 823V808L95.0 795" fill="none" stroke="#ffff00" stroke-width="2.4"/>
<path d="M100.1 823V808L105.1 795" fill="none" stroke="#ffff00" stroke-width="2.4"/>
<path d="M110.2 823V808L115.2 795" fill="none" stroke="#ffff00" stroke-width="2.4"/>
<path d="M120.3 823V808L125.3 795" fill="none" stroke="#ffff00" stroke-width="2.4"/>
<path d="M130.4 823V808L135.4 795" fill="none" stroke="#ffff00" stroke-width="2.4"/>
<path d="M140.5 823V808L145.5 795" fill="none" stroke="#ffff00" stroke-width="2.4"/>
</g>
<line x1="47" y1="807" x2="163" y2="807" stroke="#000" stroke-width="2"/>
<path d="M48.20 888.60h8.00v2.00h-8.00zM46.20 890.60h2.00v2.00h-2.00zM56.20 890.60h2.00v2.00h-2.00zM46.20 892.60h2.00v2.00h-2.00zM56.20 892.60h2.00v2.00h-2.00zM46.20 894.60h2.00v2.00h-2.00zM56.20 894.60h2.00v2.00h-2.00zM48.20 896.60h8.00v2.00h-8.00zM46.20 898.60h2.00v2.00h-2.00zM56.20 898.60h2.00v2.00h-2.00zM46.20 900.60h2.00v2.00h-2.00zM56.20 900.60h2.00v2.00h-2.00zM46.20 902.60h2.00v2.00h-2.00zM56.20 902.60h2.00v2.00h-2.00zM46.20 904.60h2.00v2.00h-2.00zM56.20 904.60h2.00v2.00h-2.00zM48.20 906.60h8.00v2.00h-8.00zM61.00 888.60h12.00v2.00h-12.00zM69.00 890.60h2.00v2.00h-2.00zM69.00 892.60h2.00v2.00h-2.00zM67.00 894.60h2.00v2.00h-2.00zM67.00 896.60h2.00v2.00h-2.00zM65.00 898.60h2.00v2.00h-2.00zM65.00 900.60h2.00v2.00h-2.00zM65.00 902.60h2.00v2.00h-2.00zM65.00 904.60h2.00v2.00h-2.00zM65.00 906.60h2.00v2.00h-2.00zM78.20 888.60h8.00v2.00h-8.00zM76.20 890.60h2.00v2.00h-2.00zM86.20 890.60h2.00v2.00h-2.00zM76.20 892.60h2.00v2.00h-2.00zM76.20 894.60h2.00v2.00h-2.00zM76.20 896.60h10.00v2.00h-10.00zM76.20 898.60h2.00v2.00h-2.00zM86.20 898.60h2.00v2.00h-2.00zM76.20 900.60h2.00v2.00h-2.00zM86.20 900.60h2.00v2.00h-2.00zM76.20 902.60h2.00v2.00h-2.00zM86.20 902.60h2.00v2.00h-2.00zM76.20 904.60h2.00v2.00h-2.00zM86.20 904.60h2.00v2.00h-2.00zM78.20 906.60h8.00v2.00h-8.00zM93.50 888.60h10.00v2.00h-10.00zM93.50 890.60h2.00v2.00h-2.00zM91.50 892.60h2.00v2.00h-2.00zM91.50 894.60h2.00v2.00h-2.00zM91.50 896.60h10.00v2.00h-10.00zM101.50 898.60h2.00v2.00h-2.00zM101.50 900.60h2.00v2.00h-2.00zM101.50 902.60h2.00v2.00h-2.00zM91.50 904.60h2.00v2.00h-2.00zM101.50 904.60h2.00v2.00h-2.00zM93.50 906.60h8.00v2.00h-8.00zM114.40 888.60h2.00v2.00h-2.00zM112.40 890.60h4.00v2.00h-4.00zM110.40 892.60h2.00v2.00h-2.00zM114.40 892.60h2.00v2.00h-2.00zM110.40 894.60h2.00v2.00h-2.00zM114.40 894.60h2.00v2.00h-2.00zM108.40 896.60h2.00v2.00h-2.00zM114.40 896.60h2.00v2.00h-2.00zM106.40 898.60h2.00v2.00h-2.00zM114.40 898.60h2.00v2.00h-2.00zM106.40 900.60h12.00v2.00h-12.00zM114.40 902.60h2.00v2.00h-2.00zM114.40 904.60h2.00v2.00h-2.00zM114.40 906.60h2.00v2.00h-2.00zM123.10 888.60h8.00v2.00h-8.00zM121.10 890.60h2.00v2.00h-2.00zM131.10 890.60h2.00v2.00h-2.00zM131.10 892.60h2.00v2.00h-2.00zM131.10 894.60h2.00v2.00h-2.00zM125.10 896.60h6.00v2.00h-6.00zM131.10 898.60h2.00v2.00h-2.00zM131.10 900.60h2.00v2.00h-2.00zM131.10 902.60h2.00v2.00h-2.00zM121.10 904.60h2.00v2.00h-2.00zM131.10 904.60h2.00v2.00h-2.00zM123.10 906.60h8.00v2.00h-8.00zM138.30 888.60h8.00v2.00h-8.00zM136.30 890.60h2.00v2.00h-2.00zM146.30 890.60h2.00v2.00h-2.00zM146.30 892.60h2.00v2.00h-2.00zM146.30 894.60h2.00v2.00h-2.00zM144.30 896.60h2.00v2.00h-2.00zM142.30 898.60h2.00v2.00h-2.00zM140.30 900.60h2.00v2.00h-2.00zM138.30 902.60h2.00v2.00h-2.00zM136.30 904.60h2.00v2.00h-2.00zM136.30 906.60h12.00v2.00h-12.00zM155.60 888.60h2.00v2.00h-2.00zM153.60 890.60h4.00v2.00h-4.00zM151.60 892.60h2.00v2.00h-2.00zM155.60 892.60h2.00v2.00h-2.00zM155.60 894.60h2.00v2.00h-2.00zM155.60 896.60h2.00v2.00h-2.00zM155.60 898.60h2.00v2.00h-2.00zM155.60 900.60h2.00v2.00h-2.00zM155.60 902.60h2.00v2.00h-2.00zM155.60 904.60h2.00v2.00h-2.00zM155.60 906.60h2.00v2.00h-2.00z" fill="#111"/>
</svg>
<!--/RJ45-->
</body></html>
